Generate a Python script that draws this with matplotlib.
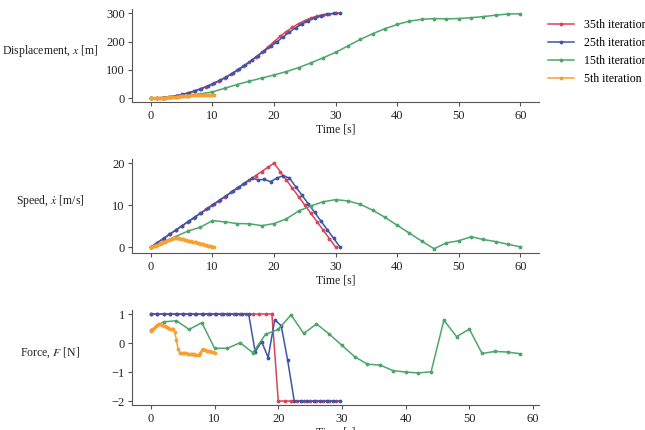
import matplotlib
matplotlib.use('Agg')
import matplotlib.pyplot as plt

# 35th iteration
t_red = [0, 1, 2, 3, 4, 5, 6, 7, 8, 9, 10, 11, 12, 13, 14, 15, 16, 17, 18, 19, 20,
         21, 22, 23, 24, 25, 26, 27, 28, 29, 30]
x_red = [0, 0.5, 2, 4.5, 8, 12.5, 18, 24.5, 32, 40.5, 50, 60.5, 72, 84.5, 98, 112.5,
         128, 144.5, 162, 180.5, 200, 219, 236, 251, 264, 275, 284, 291, 296, 299, 300]
v_red = [0, 1, 2, 3, 4, 5, 6, 7, 8, 9, 10, 11, 12, 13, 14, 15, 16, 17, 18, 19, 20,
         18, 16, 14, 12, 10, 8, 6, 4, 2, 0]
tf_red = [0, 1, 2, 3, 4, 5, 6, 7, 8, 9, 10, 11, 12, 13, 14, 15, 16, 17, 18, 19,
          20, 21, 22, 23, 24, 25, 26, 27, 28, 29]
f_red = [1, 1, 1, 1, 1, 1, 1, 1, 1, 1, 1, 1, 1, 1, 1, 1, 1, 1, 1, 1,
         -2, -2, -2, -2, -2, -2, -2, -2, -2, -2]

# 25th iteration
t_blue = [0, 1.02, 2.05, 3.07, 4.09, 5.12, 6.14, 7.16, 8.18, 9.21, 10.23, 11.25, 12.28,
          13.3, 14.32, 15.35, 16.37, 17.39, 18.41, 19.44, 20.46, 21.48, 22.51, 23.53,
          24.55, 25.58, 26.6, 27.62, 28.64, 29.67, 30.69]
x_blue = [0, 0.52, 2.09, 4.71, 8.37, 13.08, 18.84, 25.64, 33.49, 42.38, 52.33, 63.32,
          75.35, 88.43, 102.56, 117.74, 134.0, 150.6, 167.0, 183.3, 199.6, 216.8, 233.9,
          249.6, 263.3, 274.8, 284.3, 291.7, 297.0, 300.2, 301.3]
v_blue = [0, 1.02, 2.05, 3.07, 4.09, 5.12, 6.14, 7.16, 8.18, 9.21, 10.23, 11.25, 12.28,
          13.3, 14.32, 15.35, 16.37, 16.06, 16.11, 15.6, 16.42, 17.03, 16.42, 14.37,
          12.33, 10.28, 8.24, 6.19, 4.15, 2.1, 0.06]
f_blue = [1, 1, 1, 1, 1, 1, 1, 1, 1, 1, 1, 1, 1, 1, 1, 1,
          -0.3, 0.05, -0.5, 0.8, 0.6, -0.6, -2, -2, -2, -2, -2, -2, -2, -2]

# 15th iteration
t_green = [0, 2, 4, 6, 8, 10, 12, 14, 16, 18, 20, 22, 24, 26, 28, 30, 32, 34, 36, 38,
           40, 42, 44, 46, 48, 50, 52, 54, 56, 58, 60]
x_green = [0, 1, 4, 9, 15, 22, 35, 48, 60, 71, 82, 94, 108, 125, 143, 162, 185, 208,
           228, 246, 261, 273, 279, 282, 281, 282, 285, 289, 294, 298, 299]
v_green = [0, 1.1, 2.5, 3.8, 4.7, 6.3, 6.0, 5.6, 5.55, 5.1, 5.6, 6.7, 8.6, 9.8, 10.8,
           11.3, 11.0, 10.2, 8.8, 7.1, 5.2, 3.3, 1.4, -0.4, 1.0, 1.5, 2.45, 1.8, 1.3,
           0.65, 0.05]
f_green = [0.45, 0.73, 0.77, 0.47, 0.70, -0.18, -0.18, 0.01, -0.33, 0.30, 0.47, 0.97,
           0.33, 0.66, 0.31, -0.08, -0.47, -0.73, -0.76, -0.95, -1.0, -1.03, -0.99,
           0.79, 0.22, 0.48, -0.36, -0.29, -0.31, -0.37]

# 5th iteration
t_orange = [0, 0.25, 0.5, 0.75, 1, 1.25, 1.5, 1.75, 2, 2.25, 2.5, 2.75, 3, 3.25, 3.5,
            3.75, 4, 4.25, 4.5, 4.75, 5, 5.25, 5.5, 5.75, 6, 6.25, 6.5, 6.75, 7, 7.25,
            7.5, 7.75, 8, 8.25, 8.5, 8.75, 9, 9.25, 9.5, 9.75, 10, 10.25]
x_orange = [0, 0.02, 0.06, 0.13, 0.24, 0.39, 0.58, 0.81, 1.08, 1.39, 1.73, 2.11, 2.52,
            2.96, 3.44, 3.94, 4.47, 5.0, 5.54, 6.06, 6.58, 7.08, 7.55, 8.0, 8.43, 8.84,
            9.22, 9.59, 9.93, 10.25, 10.54, 10.82, 11.07, 11.3, 11.5, 11.68, 11.83,
            11.96, 12.07, 12.15, 12.2, 12.22]
v_orange = [0, 0.10, 0.22, 0.35, 0.50, 0.66, 0.83, 0.99, 1.15, 1.30, 1.44, 1.58, 1.71,
            1.83, 1.95, 2.07, 2.16, 2.2, 2.11, 2.02, 1.93, 1.83, 1.74, 1.65, 1.56, 1.47,
            1.38, 1.28, 1.19, 1.10, 1.01, 0.92, 0.83, 0.73, 0.64, 0.55, 0.46, 0.37,
            0.28, 0.18, 0.09, 0.0]
f_orange = [0.40, 0.45, 0.52, 0.58, 0.63, 0.67, 0.66, 0.63, 0.60, 0.58, 0.55, 0.52,
            0.50, 0.49, 0.47, 0.38, 0.12, -0.20, -0.33, -0.35, -0.35, -0.36, -0.36,
            -0.37, -0.37, -0.38, -0.38, -0.39, -0.40, -0.41, -0.42, -0.35, -0.24,
            -0.22, -0.24, -0.26, -0.27, -0.29, -0.30, -0.32, -0.33]

labels = ['35th iteration', '25th iteration', '15th iteration', '5th iteration']
colors = ['#d9445a', '#3d55a8', '#4ea66a', '#f5a030']

plt.rcParams['font.family'] = ['Liberation Serif', 'DejaVu Serif']
plt.rcParams['mathtext.fontset'] = 'stix'
plt.rcParams['font.size'] = 9
plt.rcParams['axes.edgecolor'] = '#555555'
plt.rcParams['xtick.color'] = '#555555'
plt.rcParams['ytick.color'] = '#555555'
plt.rcParams['xtick.labelcolor'] = '#222222'
plt.rcParams['ytick.labelcolor'] = '#222222'

fig = plt.figure(figsize=(6.45, 4.3), dpi=100)
ax1 = fig.add_axes([0.2053, 0.762, 0.630, 0.2174])
ax2 = fig.add_axes([0.2053, 0.4116, 0.630, 0.219])
ax3 = fig.add_axes([0.2053, 0.0572, 0.630, 0.2226])

kw = dict(marker='.', markersize=3.5, linewidth=1.1)
ax1.plot(t_red, x_red, color=colors[0], label=labels[0], **kw)
ax1.plot(t_blue, x_blue, color=colors[1], label=labels[1], **kw)
ax1.plot(t_green, x_green, color=colors[2], label=labels[2], **kw)
ax1.plot(t_orange, x_orange, color=colors[3], label=labels[3], **kw)

ax2.plot(t_red, v_red, color=colors[0], **kw)
ax2.plot(t_blue, v_blue, color=colors[1], **kw)
ax2.plot(t_green, v_green, color=colors[2], **kw)
ax2.plot(t_orange, v_orange, color=colors[3], **kw)

ax3.plot(tf_red, f_red, color=colors[0], **kw)
ax3.plot(t_blue[:-1], f_blue, color=colors[1], **kw)
ax3.plot(t_green[:-1], f_green, color=colors[2], **kw)
ax3.plot(t_orange[:-1], f_orange, color=colors[3], **kw)

ax1.set_yticks([0, 100, 200, 300])
ax2.set_yticks([0, 10, 20])
ax3.set_yticks([-2, -1, 0, 1])

ylabels = ['Displacement, $x$ [m]', r'Speed, $\dot{x}$ [m/s]', 'Force, $F$ [N]']
for ax, yl in zip([ax1, ax2, ax3], ylabels):
    ax.spines['top'].set_visible(False)
    ax.spines['right'].set_visible(False)
    ax.set_xticks([0, 10, 20, 30, 40, 50, 60])
    ax.set_xlabel('Time [s]', fontsize=8.5, color='#222222', labelpad=1)
    ax.set_ylabel(yl, rotation=0, ha='center', va='center', fontsize=8.5, color='#222222')
    ax.yaxis.set_label_coords(-0.203, 0.55)
    ax.tick_params(length=3, width=0.8, pad=2.5)

ax1.legend(loc='upper left', bbox_to_anchor=(1.0, 0.99), frameon=False,
           fontsize=8.5, handlelength=2.2, labelspacing=0.5, borderaxespad=0.4)

fig.savefig('out.png', dpi=100)
